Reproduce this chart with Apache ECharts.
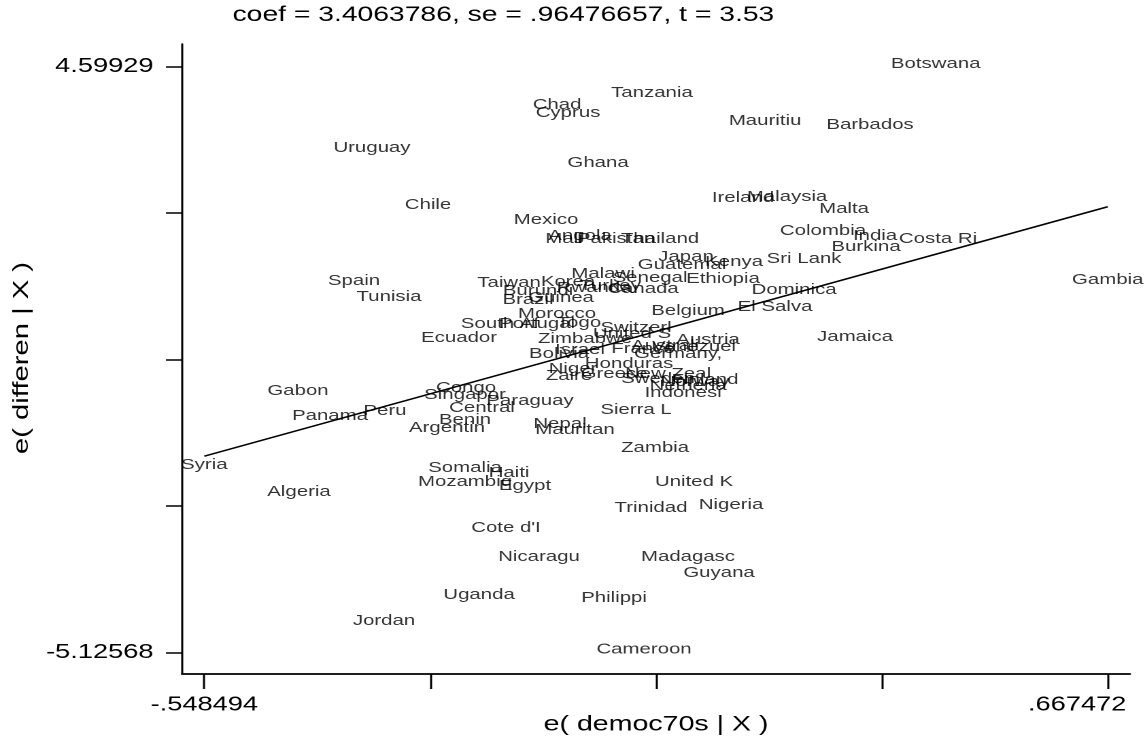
<!DOCTYPE html>
<html>
<head>
<meta charset="utf-8">
<script src="https://cdn.jsdelivr.net/npm/echarts@6/dist/echarts.min.js"></script>
<style>
html,body{margin:0;padding:0;background:#fff;overflow:hidden;}
#c{width:842px;height:746px;transform:scaleX(1.35986);transform-origin:0 0;}
</style>
</head>
<body>
<div id="c"></div>
<script>
// Added-variable plot data (residuals)
const countries = ["Botswana","Tanzania","Chad","Cyprus","Mauritiu","Barbados","Uruguay","Ghana","Ireland","Malaysia","Malta","Chile","Mexico","Colombia","India","Costa Ri","Burkina","Sri Lank","Kenya","Japan","Guatemal","Mali","Angola","Pakistan","Thailand","Taiwan","Korea","Malawi","Senegal","Ethiopia","Rwanda","Turkey","Canada","Burundi","Brazil","Guinea","Morocco","Portugal","Togo","South Af","Switzerl","Ecuador","Zimbabwe","United S","Austria","Israel","France","Australi","Venezuel","Germany,","Bolivia","Niger","Honduras","Zaire","Greece","Sweden","New Zeal","Finland","Norway","Netherla","Indonesi","Congo","Singapor","Paraguay","Central","Sierra L","Gabon","Panama","Peru","Benin","Argentin","Nepal","Mauritan","Zambia","Syria","Algeria","Somalia","Haiti","Mozambiq","Egypt","United K","Nigeria","Trinidad","Cote d'I","Nicaragu","Madagasc","Guyana","Uganda","Philippi","Jordan","Cameroon","Spain","Tunisia","Belgium","El Salva","Dominica","Jamaica","Gambia"];
const democResid = [0.436,0.054,-0.0737,-0.0589,0.2063,0.3476,-0.3228,-0.0185,0.1766,0.2359,0.3126,-0.2474,-0.0885,0.2843,0.3543,0.4391,0.3422,0.2588,0.1645,0.0999,0.0945,-0.0643,-0.0428,0.0057,0.0649,-0.1383,-0.0589,-0.0118,0.0515,0.1497,-0.0239,-0.0024,0.0420,-0.0993,-0.1128,-0.0683,-0.0737,-0.1006,-0.0441,-0.1505,0.0326,-0.2056,-0.0360,0.0272,0.1295,-0.0428,0.0420,0.0717,0.1107,0.0892,-0.0710,-0.0522,0.0232,-0.0576,0.0030,0.0622,0.0757,0.1255,0.1120,0.1026,0.0959,-0.1962,-0.1976,-0.1101,-0.1747,0.0326,-0.4224,-0.3793,-0.3053,-0.1976,-0.2218,-0.0697,-0.0495,0.0582,-0.548494,-0.4210,-0.1976,-0.1383,-0.1976,-0.1168,0.1107,0.1605,0.0528,-0.1424,-0.0980,0.1026,0.1443,-0.1787,0.0030,-0.3066,0.0434,-0.3470,-0.2999,0.1026,0.2197,0.2453,0.3274,0.667472];
const diffResid = [4.59929,4.113,3.914,3.781,3.648,3.582,3.200,2.951,2.370,2.387,2.188,2.254,2.005,1.823,1.740,1.690,1.557,1.358,1.308,1.391,1.258,1.690,1.740,1.690,1.690,0.960,0.976,1.109,1.043,1.026,0.877,0.910,0.860,0.827,0.678,0.711,0.445,0.279,0.296,0.279,0.213,0.047,0.030,0.113,0.014,-0.152,-0.136,-0.086,-0.102,-0.219,-0.219,-0.468,-0.385,-0.584,-0.551,-0.634,-0.551,-0.650,-0.683,-0.750,-0.866,-0.783,-0.899,-0.999,-1.115,-1.148,-0.833,-1.248,-1.165,-1.314,-1.447,-1.380,-1.480,-1.779,-2.061,-2.509,-2.111,-2.194,-2.343,-2.409,-2.343,-2.725,-2.774,-3.106,-3.588,-3.588,-3.853,-4.218,-4.268,-4.650,-5.12568,0.993,0.727,0.495,0.561,0.844,0.064,1.010];
// fitted line endpoints (coef = 3.4063786, through origin)
const fitX = [-0.548494, 0.667472];
const fitY = [-1.868378, 2.273662];
// axis ticks and labels
const xTickValues = [-0.548494, -0.244503, 0.059489, 0.363481, 0.667472];
const xLabelValues = [-0.548494, 0.667472];
const xLabelTexts = ["-.548494", ".667472"];
const yTickValues = [4.59929, 2.1680475, -0.263195, -2.6944375, -5.12568];
const yLabelValues = [4.59929, -5.12568];
const yLabelTexts = ["4.59929", "-5.12568"];
const titleText = "coef = 3.4063786, se = .96476657, t = 3.53";
const xName = "e( democ70s | X )";
const yName = "e( differen | X )";

const FONT = "'Liberation Sans', Arial, sans-serif";
const S = 1.35986;

function lookup(vals, texts) {
  return function (v) {
    for (let i = 0; i < vals.length; i++) {
      if (Math.abs(v - vals[i]) < 1e-6) return texts[i];
    }
    return '';
  };
}
const xLabelFmt = function (v) {
  const t = lookup(xLabelValues, xLabelTexts)(v);
  if (!t) return '';
  // the last label is kept inside the frame, as in the original
  return (Math.abs(v - xLabelValues[xLabelValues.length - 1]) < 1e-6) ? '{r|' + t + '}' : '{n|' + t + '}';
};

const pts = countries.map((n, i) => [democResid[i], diffResid[i], n]);
const fitData = fitX.map((x, i) => [x, fitY[i]]);

const chart = echarts.init(document.getElementById('c'), null, {renderer: 'canvas', devicePixelRatio: 2});
chart.setOption({
  animation: false,
  backgroundColor: '#fff',
  title: {
    text: titleText, left: 171, top: 5, padding: 0,
    textStyle: {fontFamily: FONT, fontSize: 20.8, fontWeight: 'normal', color: '#000'}
  },
  grid: {left: 133.84, right: 11.03, top: 44, bottom: 72, containLabel: false, outerBoundsMode: 'none'},
  xAxis: {
    type: 'value', min: -0.57851, max: 0.69749,
    name: xName, nameLocation: 'middle', nameGap: 40, nameMoveOverlap: false,
    nameTextStyle: {fontFamily: FONT, fontSize: 21, color: '#000'},
    axisLine: {show: true, onZero: false, lineStyle: {color: '#000', width: 1.7}},
    axisTick: {show: true, customValues: xTickValues, length: 15, inside: false, lineStyle: {color: '#000', width: 1.5}},
    axisLabel: {show: true, customValues: xLabelValues, formatter: xLabelFmt, margin: 21,
      fontFamily: FONT, fontSize: 20, color: '#000',
      rich: {
        n: {fontFamily: FONT, fontSize: 20, color: '#000'},
        r: {fontFamily: FONT, fontSize: 20, color: '#000', padding: [0, 45, 0, 0]}
      }},
    splitLine: {show: false}
  },
  yAxis: {
    type: 'value', min: -5.48418, max: 4.97600,
    axisLine: {show: true, onZero: false, lineStyle: {color: '#000', width: 1.5}},
    axisTick: {show: true, customValues: yTickValues, length: 11.8, inside: false, lineStyle: {color: '#000', width: 1.5}},
    axisLabel: {show: true, customValues: yLabelValues, formatter: lookup(yLabelValues, yLabelTexts), margin: 21,
      fontFamily: FONT, fontSize: 20, color: '#000'},
    splitLine: {show: false}
  },
  graphic: [{
    type: 'text', x: 16.2, y: 358, rotation: Math.PI / 2, scaleX: S, scaleY: 1 / S,
    style: {text: yName, fontFamily: FONT, fontSize: 21.5, fill: '#000', textAlign: 'center', textVerticalAlign: 'middle'}
  }],
  series: [
    {
      type: 'scatter', data: pts, symbolSize: 1, silent: true,
      itemStyle: {color: 'rgba(0,0,0,0)'},
      label: {show: true, position: [0.5, -2.5], align: 'center', verticalAlign: 'middle',
        formatter: p => p.data[2], fontFamily: FONT, fontSize: 15, color: '#000'},
      labelLayout: {hideOverlap: false}
    },
    {
      type: 'line', data: fitData, symbol: 'none', silent: true,
      lineStyle: {color: '#000', width: 1.5}
    }
  ]
});
</script>
</body>
</html>
